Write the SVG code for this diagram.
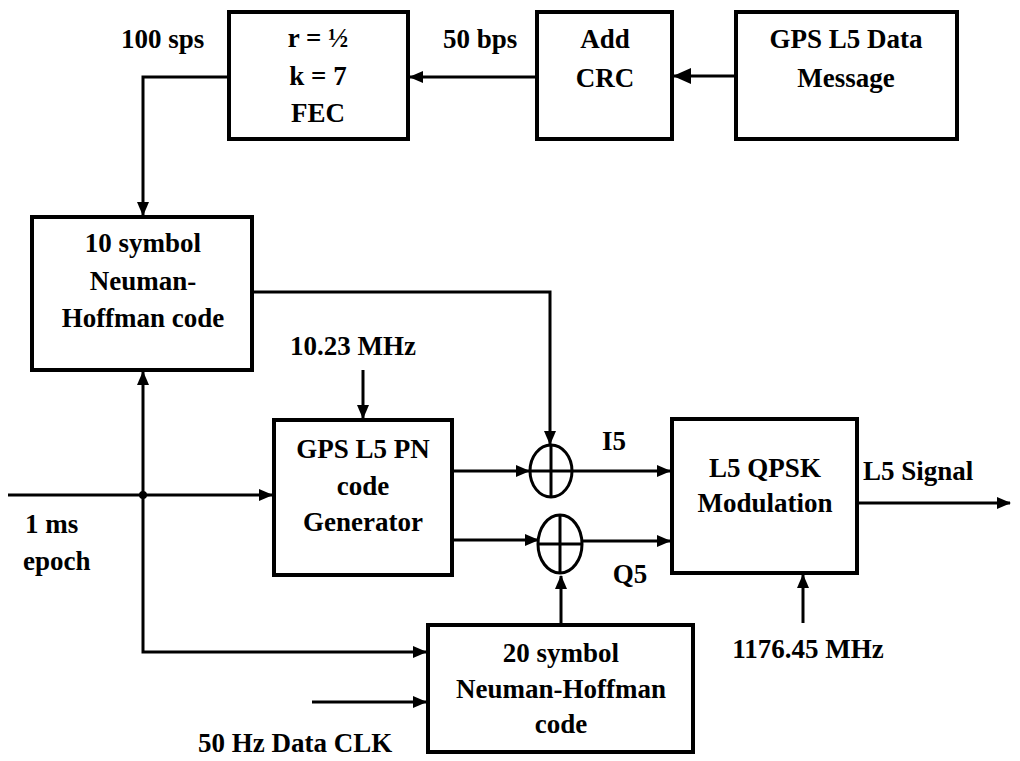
<svg xmlns="http://www.w3.org/2000/svg" width="1020" height="761" viewBox="0 0 1020 761">
<style>
.box{fill:#fff;stroke:#000;stroke-width:4}
.t{font-family:"Liberation Serif","Times New Roman",serif;font-weight:bold;font-size:27px;fill:#000}
.m{text-anchor:middle}
.ln{fill:none;stroke:#000;stroke-width:3}
.xor{fill:none;stroke:#000;stroke-width:3}
</style>
<defs>
<marker id="ah" markerUnits="userSpaceOnUse" markerWidth="14" markerHeight="12" refX="13" refY="6" orient="auto">
<path d="M0,0 L14,6 L0,12 Z" fill="#000"/>
</marker>
<marker id="ahb" markerUnits="userSpaceOnUse" markerWidth="18" markerHeight="16" refX="17" refY="8" orient="auto">
<path d="M0,0 L18,8 L0,16 Z" fill="#000"/>
</marker>
</defs>
<rect width="1020" height="761" fill="#fff"/>
<g id="connectors">
<line class="ln" x1="736" y1="76" x2="674" y2="76" stroke-width="6" marker-end="url(#ahb)"/>
<line class="ln" x1="537" y1="77" x2="410" y2="77" marker-end="url(#ah)"/>
<polyline class="ln" points="229,77 143,77 143,215" marker-end="url(#ah)"/>
<polyline class="ln" points="252,292 550,292 550,444" marker-end="url(#ah)"/>
<line class="ln" x1="363" y1="370" x2="363" y2="418" marker-end="url(#ah)"/>
<line class="ln" x1="8" y1="495" x2="272" y2="495" marker-end="url(#ah)"/>
<line class="ln" x1="143" y1="495" x2="143" y2="372" marker-end="url(#ah)"/>
<polyline class="ln" points="143,495 143,652 426,652" marker-end="url(#ah)"/>
<circle cx="143" cy="495" r="4" fill="#000"/>
<line class="ln" x1="312" y1="702" x2="426" y2="702" marker-end="url(#ah)"/>
<line class="ln" x1="452" y1="471" x2="529" y2="471" marker-end="url(#ah)"/>
<line class="ln" x1="452" y1="540" x2="538" y2="540" marker-end="url(#ah)"/>
<line class="ln" x1="572" y1="471" x2="670" y2="471" marker-end="url(#ah)"/>
<line class="ln" x1="582" y1="541" x2="670" y2="541" marker-end="url(#ah)"/>
<line class="ln" x1="561" y1="625" x2="561" y2="576" marker-end="url(#ah)"/>
<line class="ln" x1="803" y1="623" x2="803" y2="575" marker-end="url(#ah)"/>
<line class="ln" x1="857" y1="503" x2="1010" y2="503" marker-end="url(#ah)"/>
</g>
<g id="fec">
<rect class="box" x="229" y="12" width="179" height="127"/>
<text class="t m" x="318" y="47">r = ½</text>
<text class="t m" x="318" y="85">k = 7</text>
<text class="t m" x="318" y="122">FEC</text>
</g>
<g id="crc">
<rect class="box" x="537" y="12" width="135" height="127"/>
<text class="t m" x="605" y="48">Add</text>
<text class="t m" x="605" y="87">CRC</text>
</g>
<g id="datamsg">
<rect class="box" x="736" y="12" width="221" height="127"/>
<text class="t m" x="846" y="48">GPS L5 Data</text>
<text class="t m" x="846" y="87">Message</text>
</g>
<g id="nh10">
<rect class="box" x="32" y="217" width="220" height="153"/>
<text class="t m" x="143" y="252">10 symbol</text>
<text class="t m" x="143" y="290">Neuman-</text>
<text class="t m" x="143" y="327">Hoffman code</text>
</g>
<g id="pngen">
<rect class="box" x="274" y="420" width="178" height="155"/>
<text class="t m" x="363" y="458">GPS L5 PN</text>
<text class="t m" x="363" y="495">code</text>
<text class="t m" x="363" y="531">Generator</text>
</g>
<g id="xor-i">
<ellipse class="xor" cx="551" cy="471" rx="21" ry="26"/>
<line class="ln" x1="530" y1="471" x2="572" y2="471"/>
<line class="ln" x1="551" y1="445" x2="551" y2="497"/>
</g>
<g id="xor-q">
<ellipse class="xor" cx="560" cy="544" rx="22" ry="29"/>
<line class="ln" x1="538" y1="544" x2="582" y2="544"/>
<line class="ln" x1="560" y1="515" x2="560" y2="573"/>
</g>
<g id="qpsk">
<rect class="box" x="672" y="419" width="185" height="154"/>
<text class="t m" x="765" y="477">L5 QPSK</text>
<text class="t m" x="765" y="512">Modulation</text>
</g>
<g id="nh20">
<rect class="box" x="428" y="625" width="265" height="127"/>
<text class="t m" x="561" y="662">20 symbol</text>
<text class="t m" x="561" y="698">Neuman-Hoffman</text>
<text class="t m" x="561" y="733">code</text>
</g>
<g id="labels">
<text class="t" x="121" y="48">100 sps</text>
<text class="t" x="443" y="48">50 bps</text>
<text class="t m" x="353" y="355">10.23 MHz</text>
<text class="t m" x="614" y="450">I5</text>
<text class="t m" x="630" y="583">Q5</text>
<text class="t" x="863" y="480">L5 Signal</text>
<text class="t m" x="808" y="658">1176.45 MHz</text>
<text class="t" x="25" y="533">1 ms</text>
<text class="t" x="23" y="570">epoch</text>
<text class="t" x="198" y="752">50 Hz Data CLK</text>
</g>
</svg>
